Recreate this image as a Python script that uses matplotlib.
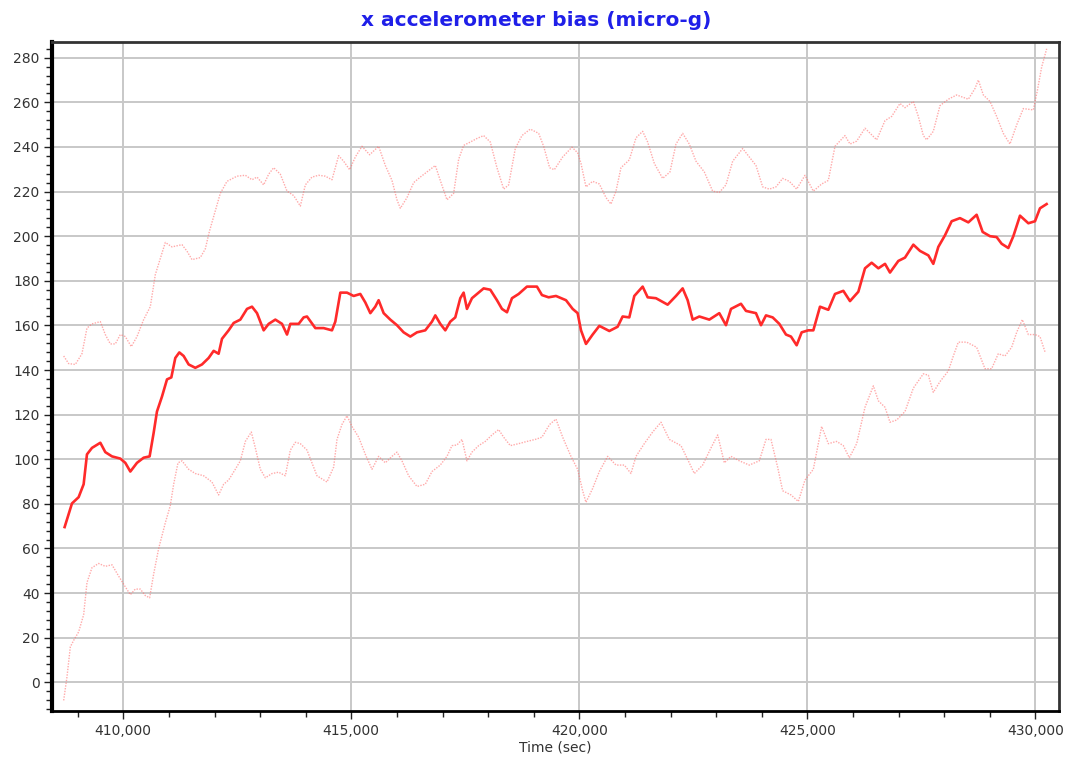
import numpy as np
import matplotlib
matplotlib.use('Agg')
import matplotlib.pyplot as plt
from matplotlib.ticker import MultipleLocator, FuncFormatter

# estimated bias (middle) and its upper / lower bounds
t_mid = [408713, 408801, 408874, 409020, 409130, 409203, 409313, 409496, 409605, 409751,
         409934, 410044, 410154, 410300, 410446, 410577, 410665, 410738, 410848, 410958,
         411053, 411140, 411228, 411323, 411433, 411579, 411725, 411871, 411981, 412090,
         412164, 412310, 412420, 412566, 412712, 412822, 412932, 413078, 413188, 413334,
         413480, 413590, 413663, 413846, 413955, 414028, 414211, 414393, 414576, 414649,
         414759, 414905, 415051, 415197, 415307, 415417, 415526, 415599, 415709, 415855,
         416001, 416147, 416294, 416440, 416622, 416769, 416842, 416951, 417061, 417171,
         417280, 417390, 417463, 417536, 417646, 417756, 417902, 418048, 418194, 418304,
         418414, 418523, 418670, 418852, 419071, 419181, 419327, 419488, 419708, 419854,
         419963, 420037, 420146, 420292, 420439, 420658, 420840, 420950, 421096, 421206,
         421389, 421499, 421681, 421937, 422120, 422266, 422376, 422486, 422632, 422851,
         423070, 423216, 423326, 423545, 423655, 423874, 423984, 424094, 424240, 424386,
         424532, 424642, 424766, 424876, 425022, 425132, 425278, 425461, 425607, 425790,
         425936, 426119, 426265, 426411, 426558, 426704, 426813, 426996, 427142, 427325,
         427471, 427654, 427763, 427873, 428019, 428165, 428348, 428531, 428713, 428845,
         429006, 429152, 429262, 429408, 429518, 429664, 429847, 429993, 430102, 430248]
v_mid = [69.6, 75.4, 80.2, 83.0, 88.8, 102.2, 105.1, 107.4, 103.2, 101.3,
         100.3, 98.4, 94.5, 98.4, 100.7, 101.3, 111.8, 121.4, 128.1, 135.8,
         136.7, 145.4, 147.9, 146.3, 142.5, 141.0, 142.5, 145.4, 148.6, 147.3,
         154.0, 157.8, 161.1, 162.6, 167.4, 168.4, 165.5, 157.8, 160.7, 162.6,
         160.7, 155.9, 160.7, 160.7, 163.6, 164.0, 158.8, 158.8, 157.8, 161.7,
         174.7, 174.7, 173.2, 174.1, 170.3, 165.5, 168.4, 171.3, 165.5, 162.6,
         160.1, 156.9, 155.0, 156.9, 157.8, 161.7, 164.5, 160.7, 157.8, 161.7,
         163.6, 172.2, 174.7, 167.4, 172.2, 174.1, 176.6, 176.0, 171.3, 167.4,
         165.9, 172.2, 174.1, 177.4, 177.4, 173.6, 172.6, 173.2, 171.3, 167.4,
         165.5, 157.8, 151.7, 155.9, 159.8, 157.5, 159.4, 164.0, 163.6, 173.2,
         177.4, 172.6, 172.2, 169.3, 173.2, 176.6, 171.3, 162.6, 164.0, 162.6,
         165.5, 160.1, 167.4, 169.7, 166.5, 165.5, 160.1, 164.5, 163.6, 160.7,
         155.9, 155.0, 151.1, 156.9, 157.8, 157.8, 168.4, 167.0, 174.1, 175.5,
         170.9, 175.1, 185.6, 188.1, 185.6, 187.6, 183.7, 188.9, 190.4, 196.2,
         193.4, 191.4, 187.6, 195.2, 200.4, 206.7, 208.1, 206.2, 209.6, 201.9,
         200.0, 199.6, 196.6, 194.7, 200.0, 209.2, 205.8, 206.7, 212.5, 214.4]

t_up = [408692, 408801, 408947, 409093, 409203, 409313, 409496, 409605, 409715, 409825,
        409934, 410044, 410175, 410300, 410446, 410592, 410702, 410921, 411067, 411286,
        411396, 411506, 411688, 411798, 411886, 412018, 412127, 412274, 412493, 412676,
        412822, 412932, 413078, 413188, 413297, 413443, 413590, 413736, 413882, 413992,
        414137, 414284, 414430, 414576, 414722, 414832, 414963, 415088, 415234, 415402,
        415599, 415746, 415892, 416001, 416075, 416221, 416367, 416513, 416659, 416842,
        416951, 417098, 417244, 417354, 417463, 417610, 417756, 417902, 418048, 418194,
        418341, 418450, 418596, 418742, 418925, 419108, 419218, 419349, 419452, 419635,
        419839, 419963, 420037, 420146, 420292, 420439, 420585, 420694, 420804, 420914,
        421096, 421243, 421389, 421499, 421645, 421828, 421988, 422120, 422266, 422412,
        422559, 422741, 422924, 423070, 423216, 423363, 423582, 423728, 423874, 424021,
        424167, 424313, 424459, 424605, 424766, 424949, 425132, 425314, 425461, 425607,
        425826, 425936, 426082, 426265, 426521, 426704, 426850, 427032, 427142, 427325,
        427434, 427544, 427617, 427763, 427909, 428092, 428275, 428531, 428677, 428750,
        428860, 429006, 429152, 429298, 429444, 429591, 429737, 429956, 430044, 430139,
        430249]
v_up = [146.3, 142.9, 142.5, 147.3, 158.8, 160.7, 161.7, 155.9, 151.7, 151.7,
        155.9, 155.0, 150.5, 155.0, 162.6, 168.4, 182.8, 197.2, 195.2, 196.2,
        193.3, 189.5, 190.4, 194.3, 202.0, 211.5, 219.2, 224.6, 226.9, 227.3,
        225.3, 226.5, 223.0, 227.8, 230.7, 227.8, 220.2, 218.2, 213.5, 223.0,
        226.5, 227.3, 226.9, 225.3, 236.1, 233.6, 229.8, 235.5, 240.3, 236.5,
        240.3, 231.7, 225.0, 216.3, 212.5, 217.3, 224.0, 226.5, 228.8, 231.7,
        225.0, 216.3, 219.2, 234.5, 240.7, 242.2, 243.8, 245.1, 242.2, 230.7,
        221.1, 223.0, 239.3, 245.1, 248.0, 246.1, 240.3, 230.7, 229.8, 235.5,
        239.9, 237.4, 232.6, 222.1, 224.6, 223.4, 217.3, 214.4, 220.2, 230.7,
        234.2, 244.1, 247.0, 242.2, 232.6, 225.9, 228.8, 241.3, 246.1, 241.3,
        233.6, 228.8, 220.2, 219.6, 223.0, 233.6, 239.3, 235.5, 231.7, 222.1,
        221.1, 222.1, 225.9, 224.6, 221.1, 227.3, 220.2, 223.4, 225.0, 240.3,
        245.1, 241.3, 242.6, 248.4, 243.2, 251.8, 253.7, 259.5, 257.6, 260.4,
        253.7, 245.1, 243.2, 247.0, 258.5, 261.4, 263.3, 261.4, 266.2, 270.0,
        263.3, 260.4, 253.7, 246.1, 241.3, 249.9, 257.2, 256.6, 265.2, 275.8,
        284.0]

t_lo = [408692, 408765, 408838, 408911, 409020, 409130, 409203, 409313, 409459, 409605,
        409751, 409898, 410044, 410154, 410263, 410373, 410483, 410577, 410665, 410775,
        410921, 411030, 411104, 411199, 411287, 411433, 411579, 411762, 411944, 412090,
        412200, 412310, 412456, 412566, 412676, 412807, 412895, 413005, 413115, 413261,
        413407, 413553, 413663, 413773, 413882, 414028, 414137, 414247, 414466, 414613,
        414686, 414795, 414905, 415015, 415161, 415307, 415453, 415599, 415746, 415892,
        416001, 416111, 416257, 416440, 416622, 416769, 416951, 417098, 417207, 417317,
        417427, 417536, 417646, 417792, 417938, 418085, 418231, 418341, 418487, 418670,
        418852, 419035, 419181, 419349, 419488, 419635, 419817, 419963, 420073, 420146,
        420292, 420439, 420621, 420804, 420987, 421133, 421243, 421425, 421608, 421791,
        421974, 422230, 422412, 422522, 422705, 422888, 423034, 423180, 423326, 423509,
        423728, 423947, 424094, 424203, 424349, 424459, 424642, 424803, 424949, 425132,
        425314, 425461, 425643, 425790, 425921, 426082, 426265, 426448, 426558, 426704,
        426813, 426960, 427142, 427325, 427544, 427654, 427763, 427909, 428092, 428202,
        428311, 428494, 428713, 428896, 429042, 429188, 429335, 429481, 429591, 429715,
        429847, 429993, 430102, 430212]
v_lo = [-8.1, 2.5, 15.9, 18.8, 22.6, 30.3, 44.7, 51.4, 53.3, 52.0,
        52.7, 47.6, 42.8, 39.3, 41.8, 41.8, 38.9, 37.9, 48.5, 60.0,
        71.5, 79.2, 88.8, 98.4, 99.3, 95.5, 93.6, 92.6, 89.8, 84.0,
        88.8, 90.7, 95.5, 99.3, 108.0, 112.2, 105.1, 95.5, 91.7, 93.6,
        94.2, 92.6, 104.1, 107.6, 107.0, 104.1, 98.4, 92.6, 89.8, 96.5,
        108.9, 115.6, 119.5, 114.7, 109.9, 102.2, 95.5, 101.3, 98.4, 101.3,
        103.2, 99.3, 92.6, 87.8, 88.8, 94.5, 97.4, 101.3, 106.1, 106.4,
        108.9, 99.3, 103.2, 106.1, 108.0, 110.9, 113.3, 109.9, 106.1, 107.0,
        108.0, 108.9, 109.9, 115.6, 118.0, 109.9, 101.3, 95.5, 85.9, 80.7,
        86.9, 94.5, 101.3, 97.4, 97.4, 93.6, 101.3, 107.0, 112.2, 116.6,
        108.9, 106.1, 98.4, 93.6, 97.4, 105.1, 110.9, 98.4, 101.3, 99.3,
        97.4, 99.3, 108.9, 108.9, 96.5, 85.9, 84.0, 81.1, 90.7, 95.5,
        114.7, 107.0, 108.0, 106.1, 100.7, 107.0, 123.3, 132.9, 126.2, 123.3,
        116.6, 117.6, 121.4, 131.9, 138.3, 137.7, 130.0, 134.8, 139.6, 146.3,
        152.5, 152.5, 150.2, 140.6, 140.6, 147.3, 146.3, 150.2, 156.9, 162.6,
        155.9, 155.9, 155.0, 148.2]

fig = plt.figure(figsize=(10.72, 7.6), dpi=100)
ax = fig.add_axes([0.0485, 0.0649, 0.9394, 0.8794])

# bounds: faint dotted pink
ax.plot(t_up, v_up, color='#ff7070', lw=1.0, ls=(0, (1, 1)), alpha=0.6)
ax.plot(t_lo, v_lo, color='#ff7070', lw=1.0, ls=(0, (1, 1)), alpha=0.6)
# estimate: solid red
ax.plot(t_mid, v_mid, color='#ff2a2a', lw=1.9)

ax.set_xlim(408436, 430520)
ax.set_ylim(-12.7, 286.9)

ax.xaxis.set_major_locator(MultipleLocator(5000))
ax.xaxis.set_minor_locator(MultipleLocator(1000))
ax.yaxis.set_major_locator(MultipleLocator(20))
ax.yaxis.set_minor_locator(MultipleLocator(4))
ax.xaxis.set_major_formatter(FuncFormatter(lambda v, p: f'{int(v):,}'))

ax.grid(True, which='major', color='#c8c8c8', lw=1.4)
ax.set_axisbelow(True)

ax.tick_params(axis='both', which='major', labelsize=10, labelcolor='#333333',
               color='#222222', direction='out', length=6, width=1)
ax.tick_params(axis='both', which='minor', color='#222222', direction='out',
               length=4, width=1)
ax.tick_params(axis='y', pad=3)

ax.spines['left'].set_linewidth(3)
ax.spines['left'].set_color('black')
ax.spines['bottom'].set_linewidth(2)
ax.spines['bottom'].set_color('black')
for s in ['top', 'right']:
    ax.spines[s].set_linewidth(2)
    ax.spines[s].set_color('#333333')

# title is centred on the whole figure, not on the axes
fig.suptitle('x accelerometer bias (micro-g)', x=0.5, y=1 - 20 / 760, va='center',
             color='#1f1fe8', fontweight='bold', fontsize=14.5)
ax.set_xlabel('Time (sec)', fontsize=10, color='#333333', labelpad=2)

fig.savefig('out.png', dpi=100)
